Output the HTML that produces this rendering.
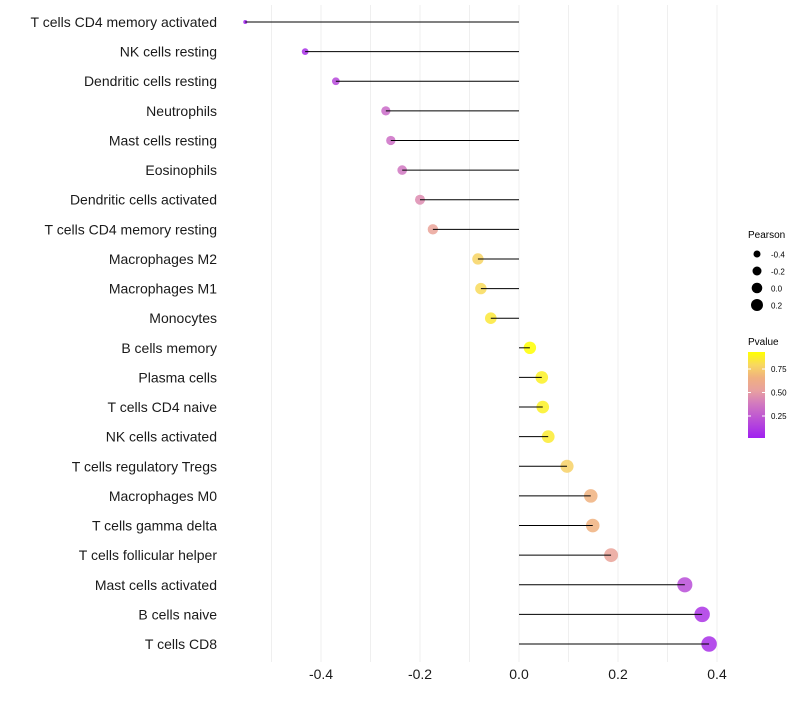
<!DOCTYPE html>
<html><head><meta charset="utf-8"><style>
body{margin:0;background:#fff;}
svg text{font-family:"Liberation Sans",sans-serif;}
</style></head><body>
<svg id="chart" width="800" height="700" xmlns="http://www.w3.org/2000/svg">
<defs>
<linearGradient id="pgrad" x1="0" y1="1" x2="0" y2="0">
<stop offset="0" stop-color="#A020F0"/>
<stop offset="0.4" stop-color="#D27ABF"/>
<stop offset="0.55" stop-color="#E8A0A0"/>
<stop offset="0.7" stop-color="#F0B080"/>
<stop offset="0.85" stop-color="#F8D860"/>
<stop offset="1" stop-color="#FFFF00"/>
</linearGradient>
</defs>
<g id="grid"></g><g id="marks"></g><g id="labels"></g><g id="xticks"></g>
<g>
<text x="748" y="238" font-size="10">Pearson</text>
<circle cx="757" cy="254" r="3.5" fill="#000"/><text x="771" y="257.5" font-size="8">-0.4</text>
<circle cx="757" cy="271" r="4.5" fill="#000"/><text x="771" y="274.5" font-size="8">-0.2</text>
<circle cx="757" cy="288" r="5.3" fill="#000"/><text x="771" y="291.5" font-size="8">0.0</text>
<circle cx="757" cy="305" r="6" fill="#000"/><text x="771" y="308.5" font-size="8">0.2</text>
</g>
<g>
<text x="748" y="345" font-size="10">Pvalue</text>
<rect x="748" y="352" width="17" height="86" fill="url(#pgrad)"/>
<line x1="748" y1="369" x2="751" y2="369" stroke="#fff"/><line x1="762" y1="369" x2="765" y2="369" stroke="#fff"/>
<line x1="748" y1="392.5" x2="751" y2="392.5" stroke="#fff"/><line x1="762" y1="392.5" x2="765" y2="392.5" stroke="#fff"/>
<line x1="748" y1="416" x2="751" y2="416" stroke="#fff"/><line x1="762" y1="416" x2="765" y2="416" stroke="#fff"/>
<text x="771" y="372" font-size="8">0.75</text>
<text x="771" y="395.5" font-size="8">0.50</text>
<text x="771" y="419" font-size="8">0.25</text>
</g>
</svg>
<script>
const categories=["T cells CD4 memory activated","NK cells resting","Dendritic cells resting","Neutrophils","Mast cells resting","Eosinophils","Dendritic cells activated","T cells CD4 memory resting","Macrophages M2","Macrophages M1","Monocytes","B cells memory","Plasma cells","T cells CD4 naive","NK cells activated","T cells regulatory  Tregs ","Macrophages M0","T cells gamma delta","T cells follicular helper","Mast cells activated","B cells naive","T cells CD8"];
const pearson=[-0.553,-0.432,-0.37,-0.269,-0.259,-0.236,-0.2,-0.174,-0.083,-0.077,-0.057,0.022,0.046,0.048,0.059,0.097,0.145,0.149,0.186,0.335,0.37,0.384];
const pvalue=[0.02,0.08,0.18,0.32,0.34,0.37,0.45,0.55,0.78,0.8,0.85,0.93,0.88,0.88,0.86,0.77,0.66,0.66,0.55,0.2,0.1,0.08];
const tickVals=[-0.4,-0.2,0.0,0.2,0.4];
const tickLabels=["-0.4","-0.2","0.0","0.2","0.4"];
const gridVals=[-0.5,-0.4,-0.3,-0.2,-0.1,0,0.1,0.2,0.3,0.4];
const NS="http://www.w3.org/2000/svg";
const x=v=>519+v*495;
const y=i=>22+i*(622/21);
const vmin=Math.min(...pearson);
const rad=v=>Math.sqrt(4+60*(v-vmin));
function lerp(a,b,t){return a.map((c,k)=>Math.round(c+(b[k]-c)*t));}
const stops=[[0,[160,32,240]],[0.4,[210,122,191]],[0.55,[232,160,160]],[0.7,[240,176,128]],[0.85,[248,216,96]],[1,[255,255,0]]];
function col(p){p=Math.max(0.02,Math.min(0.93,p));p=(p-0.02)/0.91;
 for(let k=1;k<stops.length;k++){if(p<=stops[k][0]){const t=(p-stops[k-1][0])/(stops[k][0]-stops[k-1][0]);const c=lerp(stops[k-1][1],stops[k][1],t);return `rgb(${c})`;}}return 'rgb(255,255,0)';}
function mk(tag,attrs,parent){const e=document.createElementNS(NS,tag);for(const k in attrs)e.setAttribute(k,attrs[k]);parent.appendChild(e);return e;}
const G=document.getElementById('grid'),M=document.getElementById('marks'),L=document.getElementById('labels'),X=document.getElementById('xticks');
gridVals.forEach(v=>{const l=mk('line',{x1:x(v),x2:x(v),y1:5,y2:662,stroke:'#EFEFEF','stroke-width':1},G);

});
categories.forEach((c,i)=>{
 const cy=y(i);
 const ci=mk('circle',{cx:x(pearson[i]),cy:cy,r:rad(pearson[i]),fill:col(pvalue[i]),'fill-opacity':0.85},M);
 
 
 const s=mk('line',{x1:x(0),x2:x(pearson[i]),y1:cy,y2:cy,stroke:'#000','stroke-width':1},M);
 
 
 const t=mk('text',{x:217,y:cy+5,'text-anchor':'end','font-size':14,fill:'#1a1a1a'},L);
 t.textContent=c;
 
 
});
tickVals.forEach((v,k)=>{const t=mk('text',{x:x(v),y:679,'text-anchor':'middle','font-size':14,fill:'#1a1a1a'},X);
 t.textContent=tickLabels[k];
 
 });
</script>
</body></html>
